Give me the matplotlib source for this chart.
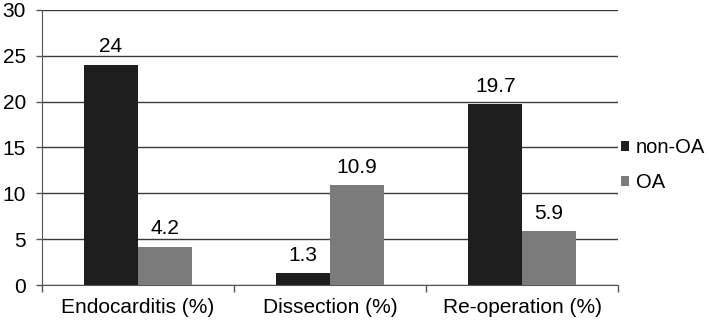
import matplotlib.pyplot as plt
import numpy as np

plt.rcParams['font.family'] = ['Liberation Sans', 'DejaVu Sans']

categorias = ['Endocarditis (%)', 'Dissection (%)', 'Re-operation (%)']
non_oa = [24, 1.3, 19.7]
oa = [4.2, 10.9, 5.9]

fig = plt.figure(figsize=(7.09, 3.24), dpi=100)
ax = fig.add_axes([0.059, 0.12, 0.813, 0.85])

x = np.arange(len(categorias))
ancho = 0.28
b1 = ax.bar(x - ancho / 2, non_oa, ancho, color='#1e1e1e', label='non-OA', zorder=3)
b2 = ax.bar(x + ancho / 2, oa, ancho, color='#7b7b7b', label='OA', zorder=3)

# etiquetas de valores
for barras in (b1, b2):
    for b in barras:
        v = b.get_height()
        ax.annotate(f'{v:g}', (b.get_x() + b.get_width() / 2, v),
                    textcoords='offset points', xytext=(0, 6),
                    ha='center', va='bottom', fontsize=15)

ax.set_ylim(0, 30)
ax.set_yticks(range(0, 31, 5))
ax.set_xlim(-0.5, 2.5)
ax.set_xticks(x)
ax.set_xticklabels(categorias, fontsize=15)
ax.set_xticks([-0.5, 0.5, 1.5, 2.5], minor=True)
ax.tick_params(axis='x', which='major', length=0, pad=9)
ax.tick_params(axis='x', which='minor', length=5, width=1, color='#555555')
ax.tick_params(axis='y', length=4.5, width=1, color='#555555', labelsize=15, pad=7)

ax.yaxis.grid(True, color='#3a3a3a', linewidth=1)
ax.set_axisbelow(True)
for lado in ['top', 'right']:
    ax.spines[lado].set_visible(False)
ax.spines['left'].set_color('#555555')
ax.spines['bottom'].set_color('#555555')

ax.legend(loc='center left', bbox_to_anchor=(1.004, 0.436), frameon=False,
          fontsize=14.5, handlelength=0.4, handleheight=0.4, handletextpad=0.35,
          labelspacing=0.8, borderaxespad=0, borderpad=0)

fig.savefig('out.png')
plt.close(fig)
